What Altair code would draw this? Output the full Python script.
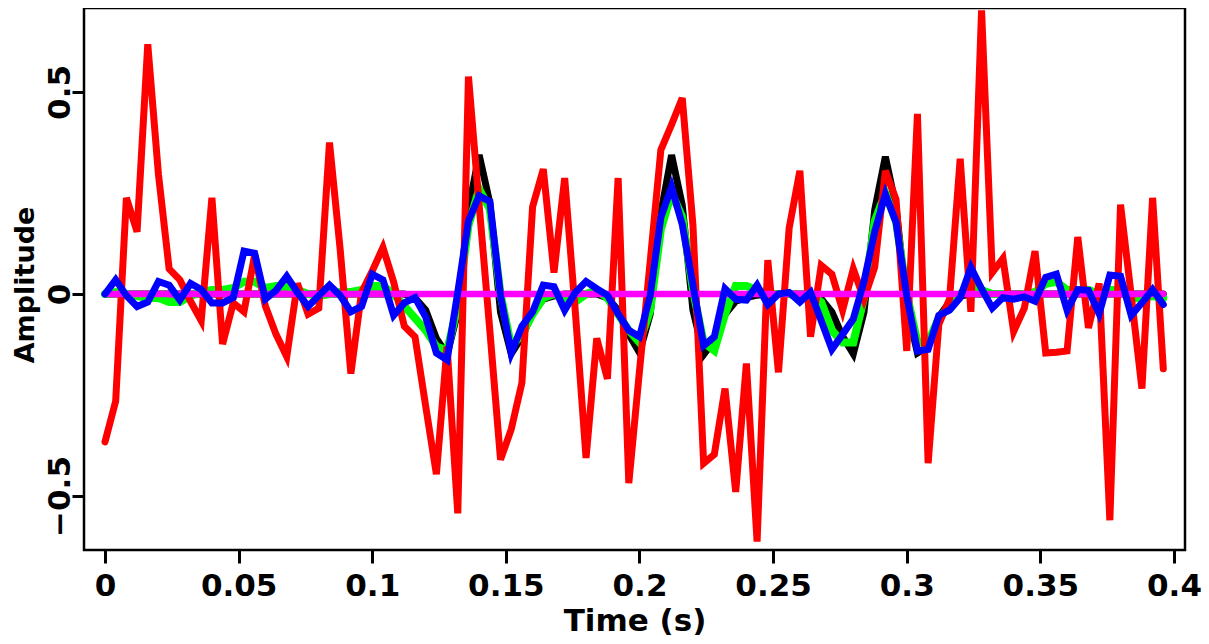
import altair as alt
import pandas as pd

# time samples (s): 100 samples, dt = 0.004
time_s = [round(0.004 * i, 3) for i in range(100)]

red_noisy = [
    -0.366, -0.265, 0.238, 0.154, 0.618, 0.296, 0.062, 0.035, -0.018, -0.066,
    0.238, -0.124, -0.022, -0.044, 0.097, -0.030, -0.100, -0.155, 0.026, -0.050,
    -0.035, 0.375, 0.110, -0.197, 0.004, 0.057, 0.115, 0.030, -0.080, -0.106,
    -0.278, -0.446, -0.130, -0.543, 0.538, 0.220, -0.090, -0.410, -0.335, -0.220,
    0.216, 0.309, 0.053, 0.287, -0.045, -0.406, -0.110, -0.210, 0.287, -0.468,
    -0.190, 0.080, 0.357, 0.419, 0.485, 0.170, -0.419, -0.397, -0.234, -0.490,
    -0.172, -0.613, 0.084, -0.194, 0.163, 0.305, -0.106, 0.071, 0.049, -0.040,
    0.062, -0.013, 0.066, 0.305, 0.234, -0.141, 0.446, -0.419, -0.075, -0.013,
    0.335, -0.044, 0.702, 0.053, 0.088, -0.093, -0.035, 0.106, -0.146, -0.144,
    -0.141, 0.141, -0.084, 0.026, -0.560, 0.221, -0.004, -0.234, 0.238, -0.185,
]

black_true = [
    0, 0, 0, 0, 0, 0, 0, 0, 0, 0,
    0, 0, 0, 0, 0, 0, 0, 0, 0, 0,
    0, 0, 0, 0, 0, 0, 0, 0, 0, -0.010,
    -0.040, -0.110, -0.150, -0.045, 0.210, 0.344, 0.225, -0.045, -0.148, -0.106,
    -0.048, -0.013, -0.005, 0, 0, 0, 0, -0.010, -0.040, -0.100,
    -0.145, -0.050, 0.200, 0.344, 0.220, -0.040, -0.150, -0.115, -0.050, -0.018,
    -0.009, -0.003, 0, 0, 0, 0, 0, -0.012, -0.045, -0.105,
    -0.148, -0.045, 0.207, 0.340, 0.216, -0.030, -0.146, -0.130, -0.057, -0.020,
    -0.005, 0, 0, 0, 0, 0, 0, 0, 0, 0,
    0, 0, 0, 0, 0, 0, 0, 0, 0, 0,
]

green_est = [
    0, 0.005, 0, -0.005, -0.010, -0.010, -0.020, -0.020, -0.005, 0.005,
    0.010, 0.010, 0.015, 0.030, 0.030, 0.015, 0.020, 0.020, 0.010, 0,
    -0.005, 0, 0.005, 0.005, 0.010, 0.020, 0.020, 0, -0.030, -0.060,
    -0.090, -0.130, -0.140, -0.030, 0.170, 0.260, 0.210, 0, -0.130, -0.100,
    -0.050, -0.010, 0, -0.010, -0.020, 0, 0.010, -0.010, -0.050, -0.090,
    -0.120, -0.040, 0.160, 0.250, 0.190, 0.010, -0.120, -0.140, -0.050, 0.020,
    0.020, 0.010, 0, 0, 0, -0.005, 0, -0.020, -0.090, -0.120,
    -0.120, -0.010, 0.180, 0.250, 0.180, 0, -0.120, -0.120, -0.060, -0.030,
    0, 0.020, 0.010, 0, 0, -0.005, 0, 0.005, 0.025, 0.030,
    0.010, 0.010, 0.010, 0, 0.010, 0.010, -0.010, -0.010, -0.005, -0.010,
]

blue_est = [
    0, 0.035, -0.004, -0.031, -0.020, 0.031, 0.022, -0.015, 0.026, 0.011,
    -0.022, -0.022, -0.009, 0.106, 0.101, -0.013, 0.009, 0.044, 0.004, -0.031,
    -0.004, 0.022, -0.004, -0.044, -0.031, 0.049, 0.035, -0.053, -0.022, -0.009,
    -0.057, -0.146, -0.163, 0.004, 0.181, 0.243, 0.229, -0.004, -0.146, -0.080,
    -0.044, 0.022, 0.018, -0.040, 0.004, 0.031, 0.013, -0.003, -0.049, -0.090,
    -0.106, -0.004, 0.190, 0.265, 0.172, 0.022, -0.128, -0.106, 0.013, -0.013,
    -0.015, 0.022, -0.026, 0, 0.004, -0.020, 0.004, -0.066, -0.137, -0.100,
    -0.062, 0.031, 0.154, 0.247, 0.177, -0.004, -0.141, -0.137, -0.053, -0.040,
    -0.009, 0.066, 0.013, -0.035, -0.009, -0.013, -0.007, -0.018, 0.041, 0.049,
    -0.040, 0.011, 0.009, -0.049, 0.047, 0.044, -0.053, -0.022, 0.011, -0.026,
]

magenta_res = [0.0] * 100

x_ticks = [0, 0.05, 0.1, 0.15, 0.2, 0.25, 0.3, 0.35, 0.4]
y_ticks = [-0.5, 0, 0.5]

df = pd.DataFrame({
    "t": time_s,
    "red": red_noisy,
    "black": black_true,
    "green": green_est,
    "blue": blue_est,
    "magenta": magenta_res,
})

W, H = 1101, 542
x_dom = [-0.00786, 0.40412]
y_dom = [-0.6337, 0.7079]
FONT = "DejaVu Sans"

x_axis = alt.Axis(
    values=x_ticks, format="~g", title="Time (s)", grid=False, domain=False,
    ticks=True, tickSize=13, tickWidth=3, tickColor="black",
    labelFont=FONT, labelFontSize=31, labelFontWeight="bold", labelColor="black",
    labelBaseline="alphabetic", labelPadding=32, labelAlign="center",
    titleFont=FONT, titleFontSize=31, titleFontWeight="bold", titleColor="black",
    titleX=W / 2, titleY=80, titleBaseline="alphabetic", titleAlign="center",
)
y_axis = alt.Axis(
    values=y_ticks, format="~g", title="Amplitude", grid=False, domain=False,
    ticks=True, tickSize=12, tickWidth=3, tickColor="black",
    labelFont=FONT, labelFontSize=31, labelFontWeight="bold", labelColor="black",
    labelAngle=270, labelAlign="center", labelBaseline="alphabetic", labelPadding=3,
    titleFont=FONT, titleFontSize=27, titleFontWeight="bold", titleColor="black",
    titleAngle=270, titleX=-51, titleY=276.5, titleAlign="center",
    titleBaseline="alphabetic",
)

xs = alt.Scale(domain=x_dom, nice=False, zero=False)
ys = alt.Scale(domain=y_dom, nice=False, zero=False)


def layer(col, color, width):
    return alt.Chart(df).mark_line(
        color=color, strokeWidth=width, strokeCap="round", strokeJoin="miter"
    ).encode(
        x=alt.X("t:Q", scale=xs, axis=x_axis, title="Time (s)"),
        y=alt.Y(f"{col}:Q", scale=ys, axis=y_axis, title="Amplitude"),
    )


chart = alt.layer(
    layer("black", "#000000", 7),
    layer("green", "#00ff00", 8),
    layer("red", "#ff0000", 7),
    layer("magenta", "#ff00ff", 6.5),
    layer("blue", "#0000ff", 7),
).properties(
    width=W, height=H,
    autosize=alt.AutoSizeParams(type="none"),
    padding={"left": 76, "top": 0, "right": 16, "bottom": 86},
    background="white",
).configure_view(stroke="black", strokeWidth=2.5)

chart.save("out.html", embed_options={"renderer": "svg", "actions": False})
